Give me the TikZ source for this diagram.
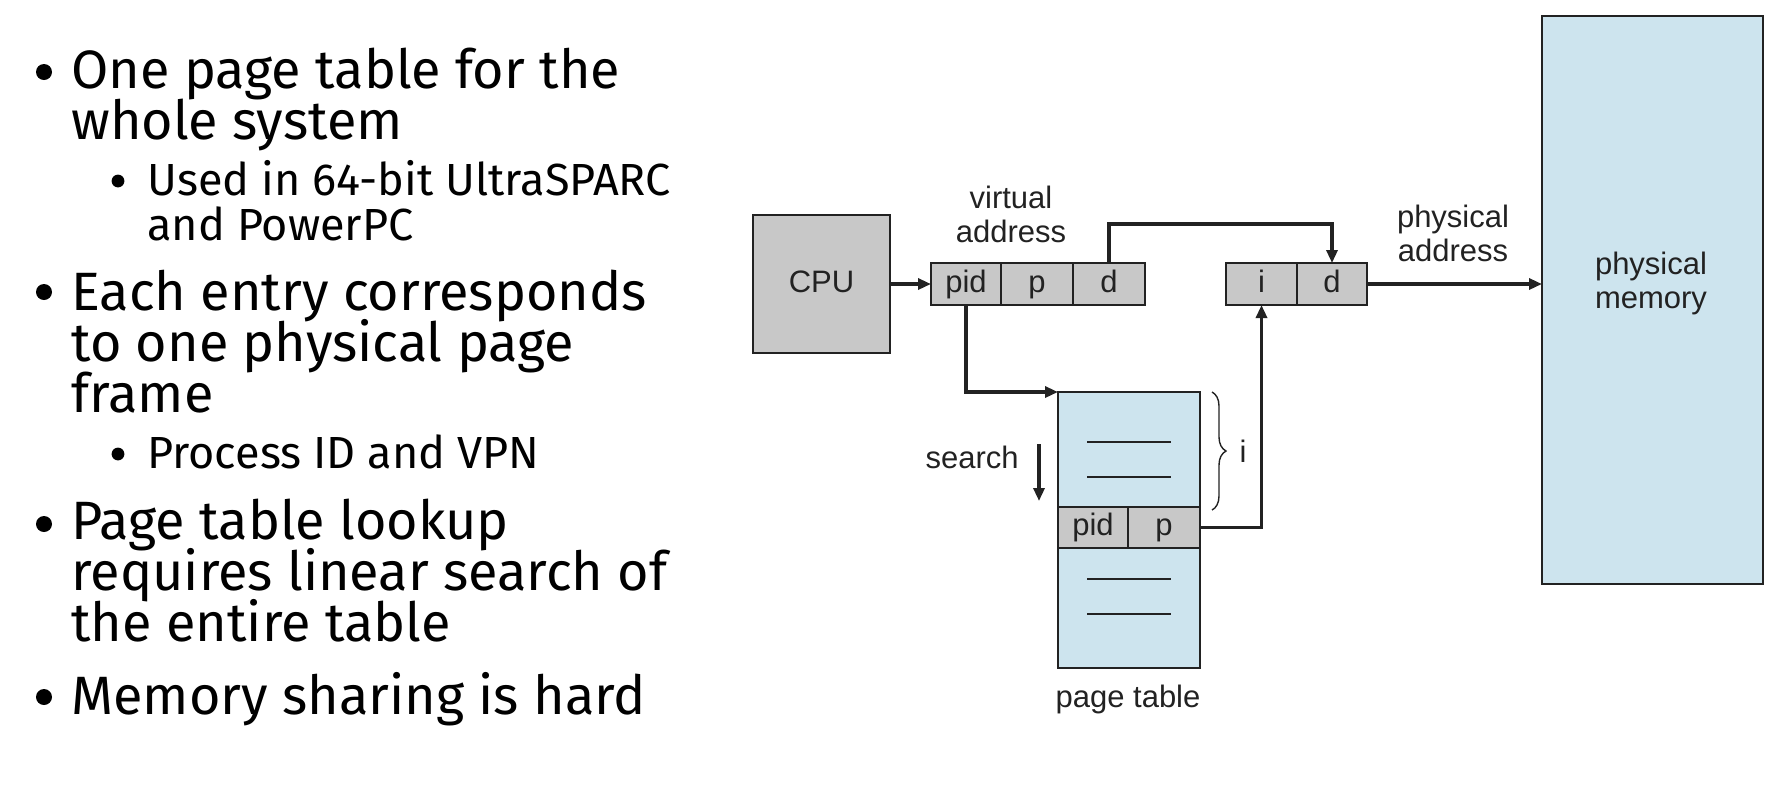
\documentclass[tikz,border=0pt]{standalone}
\usepackage{fontspec}
\setmainfont{Fira Sans}
\newfontfamily\diagfont{Liberation Sans}
\usetikzlibrary{positioning, arrows.meta, decorations.pathreplacing}
\definecolor{ptgray}{HTML}{C8C8C8}
\definecolor{ptblue}{HTML}{CDE4EE}
\definecolor{ptink}{HTML}{222222}
\lineskiplimit=-30pt
\tikzset{
  cell/.style={draw=ptink, fill=ptgray, line width=0.95pt, minimum height=21pt, inner sep=0pt, outer sep=0pt, text height=11.5pt, text depth=3.2pt, font=\diagfont\fontsize{15.5}{18}\selectfont, text=ptink},
  tablebox/.style={draw=ptink, fill=ptblue, line width=0.95pt, inner sep=0pt, outer sep=0pt},
  lbl/.style={font=\diagfont\fontsize{15.5}{17}\selectfont, text=ptink, align=center, inner sep=0pt},
  link/.style={line width=1.6pt, draw=ptink, -{Triangle[length=6.5pt,width=5.5pt]}},
  mainitem/.style={anchor=base west, align=left, inner sep=0pt, font=\fontsize{27}{25.5}\selectfont},
  subitem/.style={anchor=base west, align=left, inner sep=0pt, font=\fontsize{22.5}{22.5}\selectfont},
}

\begin{document}
\begin{tikzpicture}[x=0.5pt, y=-0.5pt]
  \useasboundingbox (0,0) rectangle (1776,784);
  % bullet list
  \foreach \y in {72,292,524,697} \fill (44,\y) circle (4pt);
  \foreach \y in {181,454} \fill (118,\y) circle (3.2pt);
  \node[mainitem] (b1) at (71,139) {One page table for the\\whole system};
  \node[subitem] (s1) at (147,240) {Used in 64-bit UltraSPARC\\and PowerPC};
  \node[mainitem] (b2) at (71,412) {Each entry corresponds\\to one physical page\\frame};
  \node[subitem] (s2) at (147,468) {Process ID and VPN};
  \node[mainitem] (b3) at (71,641) {Page table lookup\\requires linear search of\\the entire table};
  \node[mainitem] (b4) at (71,714) {Memory sharing is hard};

  % cpu and virtual address
  \node[cell, minimum width=68.5pt, minimum height=69pt] (cpu) at (821.5,284) {CPU};
  \node[cell, minimum width=35pt, anchor=west] (vpid) at (931,284) {pid};
  \node[cell, minimum width=36pt, right=0pt of vpid] (vp) {p};
  \node[cell, minimum width=36pt, right=0pt of vp] (vd) {d};
  \node[lbl] (vaddr) at (1011,214) {virtual\\address};

  % physical address and memory
  \node[cell, minimum width=35.5pt, anchor=west] (pi) at (1226,284) {i};
  \node[cell, minimum width=35pt, right=0pt of pi] (pd) {d};
  \node[lbl] (paddr) at (1453,233) {physical\\address};
  \node[tablebox, minimum width=110.5pt, minimum height=284pt] (mem) at (1652.5,300) {};
  \node[lbl] (memlbl) at (1651,283) {physical\\memory};

  % page table
  \node[tablebox, minimum width=71pt, minimum height=138pt] (ptab) at (1129,530) {};
  \node[cell, minimum width=35pt, minimum height=20.5pt, anchor=west] (tpid) at (1058,527.5) {pid};
  \node[cell, minimum width=36pt, minimum height=20.5pt, right=0pt of tpid] (tp) {p};
  \foreach \y in {442,477,579,614} \draw[ptink, line width=0.7pt] (1087,\y) -- (1171,\y);
  \node[lbl] (ptlbl) at (1128,699) {page table};

  % search direction and index brace
  \coordinate (stop) at (1039,444);
  \coordinate (sbot) at (1039,501);
  \draw[link] (stop) -- (sbot);
  \node[lbl, anchor=east] (srch) at (1019,457) {search};
  \draw[ptink, line width=0.7pt, decorate, decoration={brace, amplitude=7pt}] (1212,392) -- (1212,510);
  \node[lbl] (idx) at (1243,451) {i};

  % connectors
  \draw[link] (cpu.east) -- (vpid.west);
  \draw[link] (vpid.south) |- (ptab.north west);
  \draw[link] (vd.north) -- ++(0,-39) -| (pd.north);
  \draw[link] (tp.east) -| (pi.south);
  \draw[link] (pd.east) -- (mem.west |- pd.east);
\end{tikzpicture}
\end{document}
